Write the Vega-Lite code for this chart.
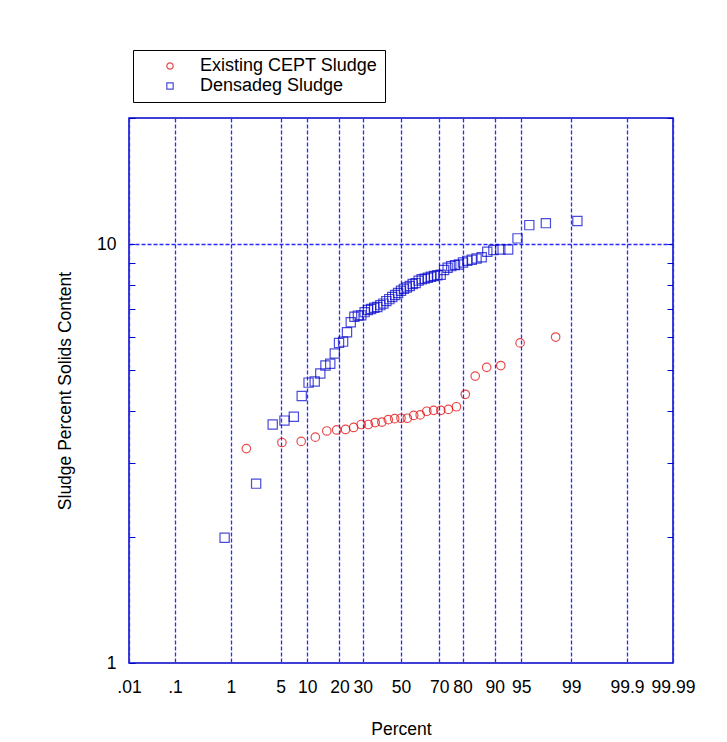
{
  "$schema": "https://vega.github.io/schema/vega-lite/v6.json",
  "width": 544,
  "height": 545,
  "autosize": {"type": "none"},
  "padding": {"left": 129, "top": 118, "right": 54, "bottom": 79},
  "background": "white",
  "config": {
    "font": "Liberation Sans",
    "view": {"stroke": "#0000cc", "strokeWidth": 1.5}
  },
  "data": {"values": [
    {"series": "Existing CEPT Sludge", "percent": 1.724, "solids": 3.25},
    {"series": "Existing CEPT Sludge", "percent": 5.172, "solids": 3.36},
    {"series": "Existing CEPT Sludge", "percent": 8.621, "solids": 3.38},
    {"series": "Existing CEPT Sludge", "percent": 12.069, "solids": 3.46},
    {"series": "Existing CEPT Sludge", "percent": 15.517, "solids": 3.58},
    {"series": "Existing CEPT Sludge", "percent": 18.966, "solids": 3.60},
    {"series": "Existing CEPT Sludge", "percent": 22.414, "solids": 3.61},
    {"series": "Existing CEPT Sludge", "percent": 25.862, "solids": 3.65},
    {"series": "Existing CEPT Sludge", "percent": 29.310, "solids": 3.71},
    {"series": "Existing CEPT Sludge", "percent": 32.759, "solids": 3.71},
    {"series": "Existing CEPT Sludge", "percent": 36.207, "solids": 3.75},
    {"series": "Existing CEPT Sludge", "percent": 39.655, "solids": 3.76},
    {"series": "Existing CEPT Sludge", "percent": 43.103, "solids": 3.81},
    {"series": "Existing CEPT Sludge", "percent": 46.552, "solids": 3.83},
    {"series": "Existing CEPT Sludge", "percent": 50.000, "solids": 3.84},
    {"series": "Existing CEPT Sludge", "percent": 53.448, "solids": 3.84},
    {"series": "Existing CEPT Sludge", "percent": 56.897, "solids": 3.90},
    {"series": "Existing CEPT Sludge", "percent": 60.345, "solids": 3.91},
    {"series": "Existing CEPT Sludge", "percent": 63.793, "solids": 3.99},
    {"series": "Existing CEPT Sludge", "percent": 67.241, "solids": 4.01},
    {"series": "Existing CEPT Sludge", "percent": 70.690, "solids": 4.01},
    {"series": "Existing CEPT Sludge", "percent": 74.138, "solids": 4.03},
    {"series": "Existing CEPT Sludge", "percent": 77.586, "solids": 4.09},
    {"series": "Existing CEPT Sludge", "percent": 81.034, "solids": 4.38},
    {"series": "Existing CEPT Sludge", "percent": 84.483, "solids": 4.84},
    {"series": "Existing CEPT Sludge", "percent": 87.931, "solids": 5.08},
    {"series": "Existing CEPT Sludge", "percent": 91.379, "solids": 5.13},
    {"series": "Existing CEPT Sludge", "percent": 94.828, "solids": 5.81},
    {"series": "Existing CEPT Sludge", "percent": 98.276, "solids": 6.00},
    {"series": "Densadeg Sludge", "percent": 0.794, "solids": 1.99},
    {"series": "Densadeg Sludge", "percent": 2.381, "solids": 2.68},
    {"series": "Densadeg Sludge", "percent": 3.968, "solids": 3.71},
    {"series": "Densadeg Sludge", "percent": 5.556, "solids": 3.79},
    {"series": "Densadeg Sludge", "percent": 7.143, "solids": 3.87},
    {"series": "Densadeg Sludge", "percent": 8.730, "solids": 4.34},
    {"series": "Densadeg Sludge", "percent": 10.317, "solids": 4.67},
    {"series": "Densadeg Sludge", "percent": 11.905, "solids": 4.70},
    {"series": "Densadeg Sludge", "percent": 13.492, "solids": 4.91},
    {"series": "Densadeg Sludge", "percent": 15.079, "solids": 5.13},
    {"series": "Densadeg Sludge", "percent": 16.667, "solids": 5.18},
    {"series": "Densadeg Sludge", "percent": 18.254, "solids": 5.48},
    {"series": "Densadeg Sludge", "percent": 19.841, "solids": 5.81},
    {"series": "Densadeg Sludge", "percent": 21.429, "solids": 5.85},
    {"series": "Densadeg Sludge", "percent": 23.016, "solids": 6.16},
    {"series": "Densadeg Sludge", "percent": 24.603, "solids": 6.51},
    {"series": "Densadeg Sludge", "percent": 26.190, "solids": 6.71},
    {"series": "Densadeg Sludge", "percent": 27.778, "solids": 6.75},
    {"series": "Densadeg Sludge", "percent": 29.365, "solids": 6.76},
    {"series": "Densadeg Sludge", "percent": 30.952, "solids": 6.88},
    {"series": "Densadeg Sludge", "percent": 32.540, "solids": 6.96},
    {"series": "Densadeg Sludge", "percent": 34.127, "solids": 7.00},
    {"series": "Densadeg Sludge", "percent": 35.714, "solids": 7.05},
    {"series": "Densadeg Sludge", "percent": 37.302, "solids": 7.08},
    {"series": "Densadeg Sludge", "percent": 38.889, "solids": 7.15},
    {"series": "Densadeg Sludge", "percent": 40.476, "solids": 7.21},
    {"series": "Densadeg Sludge", "percent": 42.063, "solids": 7.31},
    {"series": "Densadeg Sludge", "percent": 43.651, "solids": 7.39},
    {"series": "Densadeg Sludge", "percent": 45.238, "solids": 7.48},
    {"series": "Densadeg Sludge", "percent": 46.825, "solids": 7.56},
    {"series": "Densadeg Sludge", "percent": 48.413, "solids": 7.64},
    {"series": "Densadeg Sludge", "percent": 50.000, "solids": 7.74},
    {"series": "Densadeg Sludge", "percent": 51.587, "solids": 7.82},
    {"series": "Densadeg Sludge", "percent": 53.175, "solids": 7.88},
    {"series": "Densadeg Sludge", "percent": 54.762, "solids": 7.94},
    {"series": "Densadeg Sludge", "percent": 56.349, "solids": 8.03},
    {"series": "Densadeg Sludge", "percent": 57.937, "solids": 8.07},
    {"series": "Densadeg Sludge", "percent": 59.524, "solids": 8.18},
    {"series": "Densadeg Sludge", "percent": 61.111, "solids": 8.24},
    {"series": "Densadeg Sludge", "percent": 62.698, "solids": 8.27},
    {"series": "Densadeg Sludge", "percent": 64.286, "solids": 8.31},
    {"series": "Densadeg Sludge", "percent": 65.873, "solids": 8.36},
    {"series": "Densadeg Sludge", "percent": 67.460, "solids": 8.39},
    {"series": "Densadeg Sludge", "percent": 69.048, "solids": 8.43},
    {"series": "Densadeg Sludge", "percent": 70.635, "solids": 8.45},
    {"series": "Densadeg Sludge", "percent": 72.222, "solids": 8.67},
    {"series": "Densadeg Sludge", "percent": 73.810, "solids": 8.78},
    {"series": "Densadeg Sludge", "percent": 75.397, "solids": 8.86},
    {"series": "Densadeg Sludge", "percent": 76.984, "solids": 8.91},
    {"series": "Densadeg Sludge", "percent": 78.571, "solids": 8.94},
    {"series": "Densadeg Sludge", "percent": 80.159, "solids": 9.04},
    {"series": "Densadeg Sludge", "percent": 81.746, "solids": 9.12},
    {"series": "Densadeg Sludge", "percent": 83.333, "solids": 9.18},
    {"series": "Densadeg Sludge", "percent": 84.921, "solids": 9.24},
    {"series": "Densadeg Sludge", "percent": 86.508, "solids": 9.30},
    {"series": "Densadeg Sludge", "percent": 88.095, "solids": 9.59},
    {"series": "Densadeg Sludge", "percent": 89.683, "solids": 9.68},
    {"series": "Densadeg Sludge", "percent": 91.270, "solids": 9.71},
    {"series": "Densadeg Sludge", "percent": 92.857, "solids": 9.71},
    {"series": "Densadeg Sludge", "percent": 94.444, "solids": 10.32},
    {"series": "Densadeg Sludge", "percent": 96.032, "solids": 11.10},
    {"series": "Densadeg Sludge", "percent": 97.619, "solids": 11.22},
    {"series": "Densadeg Sludge", "percent": 99.206, "solids": 11.35}
  ]},
  "transform": [{"calculate": "quantileNormal(datum.percent / 100)", "as": "z"}],
  "resolve": {"axis": {"y": "independent"}},
  "layer": [
    {
      "mark": {"type": "point", "filled": false, "strokeWidth": 1.2},
      "encoding": {
        "x": {
          "field": "z", "type": "quantitative",
          "scale": {"domain": [-3.719, 3.719], "nice": false, "zero": false},
          "axis": {
            "values": [-3.719, -3.0902, -2.3263, -1.6449, -1.2816, -0.8416, -0.5244, 0, 0.5244, 0.8416, 1.2816, 1.6449, 2.3263, 3.0902, 3.719],
            "labelExpr": "cumulativeNormal(datum.value) < 0.0005 ? '.01' : cumulativeNormal(datum.value) < 0.005 ? '.1' : cumulativeNormal(datum.value) > 0.9995 ? '99.99' : cumulativeNormal(datum.value) > 0.995 ? '99.9' : format(cumulativeNormal(datum.value) * 100, '.0f')",
            "grid": true, "gridColor": "#2a2aff", "gridDash": [4, 2], "gridWidth": 1.3,
            "tickSize": 0, "tickOpacity": 0, "domain": false,
            "labelFontSize": 17.5, "labelColor": "black", "labelPadding": 15,
            "labelOverlap": false, "labelFlush": false,
            "title": "Percent", "titleFontSize": 17.5, "titleFontWeight": "normal", "titleColor": "black", "titlePadding": 25
          }
        },
        "y": {
          "field": "solids", "type": "quantitative",
          "scale": {"type": "log", "domain": [1, 20], "nice": false},
          "axis": {
            "orient": "left",
            "values": [1, 2, 3, 4, 5, 6, 7, 8, 9, 10, 20],
            "labelExpr": "datum.value == 1 || datum.value == 10 ? datum.label : ''",
            "labelFontSize": 17.5, "labelColor": "black", "labelPadding": 19,
            "tickSize": -6, "tickColor": "#0000cc", "domain": false,
            "grid": true, "gridColor": "#2a2aff", "gridDash": [4, 2], "gridWidth": 1.3,
            "gridOpacity": {"condition": {"test": "datum.value == 10", "value": 1}, "value": 0},
            "title": "Sludge Percent Solids Content", "titleFontSize": 17.5, "titleFontWeight": "normal", "titleColor": "black", "titlePadding": 22
          }
        },
        "size": {"condition": {"test": "datum.series == 'Densadeg Sludge'", "value": 85}, "value": 72},
        "color": {
          "field": "series", "type": "nominal",
          "scale": {"domain": ["Existing CEPT Sludge", "Densadeg Sludge"], "range": ["#e00000", "#0000cc"]},
          "legend": {
            "orient": "none", "legendX": 4, "legendY": -68, "title": null,
            "symbolSize": 40, "symbolStrokeWidth": 1.2, "symbolOffset": 21,
            "labelFontSize": 18, "labelOffset": 21, "labelLimit": 400,
            "padding": 7, "rowPadding": 2,
            "strokeColor": "black", "fillColor": "white",
            "encode": {
              "legend": {"update": {"strokeWidth": {"value": 3}}},
              "labels": {"update": {"fill": {"signal": "datum.value === 'Existing CEPT Sludge' ? '#e00000' : '#0000cc'"}}}
            }
          }
        },
        "shape": {
          "field": "series", "type": "nominal",
          "scale": {"domain": ["Existing CEPT Sludge", "Densadeg Sludge"], "range": ["circle", "square"]},
          "legend": {
            "orient": "none", "legendX": 4, "legendY": -68, "title": null,
            "symbolSize": 40, "symbolStrokeWidth": 1.2, "symbolOffset": 21,
            "labelFontSize": 18, "labelOffset": 21, "labelLimit": 400,
            "padding": 7, "rowPadding": 2,
            "strokeColor": "black", "fillColor": "white",
            "encode": {
              "legend": {"update": {"strokeWidth": {"value": 3}}},
              "labels": {"update": {"fill": {"signal": "datum.value === 'Existing CEPT Sludge' ? '#e00000' : '#0000cc'"}}}
            }
          }
        }
      }
    },
    {
      "mark": {"type": "point", "opacity": 0},
      "encoding": {
        "y": {
          "field": "solids", "type": "quantitative",
          "scale": {"type": "log"},
          "axis": {
            "orient": "right", "values": [2, 3, 4, 5, 6, 7, 8, 9, 10, 20],
            "labels": false, "domain": false, "grid": false,
            "tickSize": -6, "tickColor": "#0000cc", "title": null
          }
        }
      }
    }
  ]
}
